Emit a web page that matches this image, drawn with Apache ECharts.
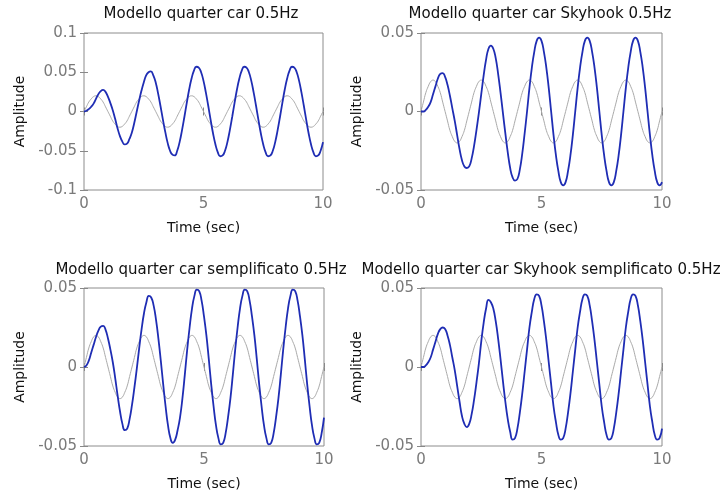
<!DOCTYPE html>
<html>
<head>
<meta charset="utf-8">
<title>Modello quarter car 0.5Hz</title>
<style>
  html, body { margin: 0; padding: 0; background: #fff; }
  #chart { width: 722px; height: 501px; }
</style>
<script src="https://cdn.jsdelivr.net/npm/echarts@6/dist/echarts.min.js"></script>
</head>
<body>
<div id="chart"></div>
<script>
// tempo (sec), passo 0.1
var time = [0, 0.1, 0.2, 0.3, 0.4, 0.5, 0.6, 0.7, 0.8, 0.9,
  1, 1.1, 1.2, 1.3, 1.4, 1.5, 1.6, 1.7, 1.8, 1.9,
  2, 2.1, 2.2, 2.3, 2.4, 2.5, 2.6, 2.7, 2.8, 2.9,
  3, 3.1, 3.2, 3.3, 3.4, 3.5, 3.6, 3.7, 3.8, 3.9,
  4, 4.1, 4.2, 4.3, 4.4, 4.5, 4.6, 4.7, 4.8, 4.9,
  5, 5.1, 5.2, 5.3, 5.4, 5.5, 5.6, 5.7, 5.8, 5.9,
  6, 6.1, 6.2, 6.3, 6.4, 6.5, 6.6, 6.7, 6.8, 6.9,
  7, 7.1, 7.2, 7.3, 7.4, 7.5, 7.6, 7.7, 7.8, 7.9,
  8, 8.1, 8.2, 8.3, 8.4, 8.5, 8.6, 8.7, 8.8, 8.9,
  9, 9.1, 9.2, 9.3, 9.4, 9.5, 9.6, 9.7, 9.8, 9.9, 10]

// ingresso strada (grigio), uguale nei quattro grafici
var ingresso = [0, 0.006, 0.012, 0.016, 0.019, 0.020, 0.019, 0.016, 0.012, 0.006,
  0, -0.006, -0.012, -0.016, -0.019, -0.020, -0.019, -0.016, -0.012, -0.006,
  0, 0.006, 0.012, 0.016, 0.019, 0.020, 0.019, 0.016, 0.012, 0.006,
  0, -0.006, -0.012, -0.016, -0.019, -0.020, -0.019, -0.016, -0.012, -0.006,
  0, 0.006, 0.012, 0.016, 0.019, 0.020, 0.019, 0.016, 0.012, 0.006,
  0, -0.006, -0.012, -0.016, -0.019, -0.020, -0.019, -0.016, -0.012, -0.006,
  0, 0.006, 0.012, 0.016, 0.019, 0.020, 0.019, 0.016, 0.012, 0.006,
  0, -0.006, -0.012, -0.016, -0.019, -0.020, -0.019, -0.016, -0.012, -0.006,
  0, 0.006, 0.012, 0.016, 0.019, 0.020, 0.019, 0.016, 0.012, 0.006,
  0, -0.006, -0.012, -0.016, -0.019, -0.020, -0.019, -0.016, -0.012, -0.006, 0]

var quarterCar = [0, 0.001, 0.003, 0.006, 0.010, 0.016, 0.022, 0.026, 0.0275, 0.025,
  0.019, 0.011, 0.002, -0.009, -0.021, -0.031, -0.038, -0.042, -0.041, -0.035,
  -0.027, -0.015, -0.001, 0.013, 0.026, 0.037, 0.046, 0.050, 0.051, 0.046,
  0.037, 0.023, 0.007, -0.010, -0.026, -0.040, -0.050, -0.055, -0.056, -0.050,
  -0.039, -0.024, -0.007, 0.011, 0.028, 0.042, 0.052, 0.057, 0.056, 0.050,
  0.039, 0.024, 0.007, -0.011, -0.028, -0.042, -0.052, -0.057, -0.056, -0.050,
  -0.039, -0.024, -0.007, 0.011, 0.028, 0.042, 0.052, 0.057, 0.056, 0.050,
  0.039, 0.024, 0.007, -0.011, -0.028, -0.042, -0.052, -0.057, -0.056, -0.050,
  -0.039, -0.024, -0.007, 0.011, 0.028, 0.042, 0.052, 0.057, 0.056, 0.050,
  0.039, 0.024, 0.007, -0.011, -0.028, -0.042, -0.052, -0.057, -0.056, -0.050, -0.039]

var skyhook = [0, 0.000, 0.001, 0.003, 0.006, 0.011, 0.016, 0.021, 0.024, 0.0245,
  0.022, 0.017, 0.010, 0.002, -0.006, -0.015, -0.024, -0.031, -0.035, -0.036,
  -0.035, -0.030, -0.022, -0.012, -0.001, 0.011, 0.023, 0.033, 0.040, 0.042,
  0.040, 0.034, 0.024, 0.012, -0.001, -0.014, -0.026, -0.036, -0.042, -0.044,
  -0.043, -0.037, -0.027, -0.014, 0, 0.015, 0.028, 0.038, 0.045, 0.047,
  0.045, 0.038, 0.028, 0.015, 0, -0.015, -0.028, -0.038, -0.045, -0.047,
  -0.045, -0.038, -0.028, -0.015, 0, 0.015, 0.028, 0.038, 0.045, 0.047,
  0.045, 0.038, 0.028, 0.015, 0, -0.015, -0.028, -0.038, -0.045, -0.047,
  -0.045, -0.038, -0.028, -0.015, 0, 0.015, 0.028, 0.038, 0.045, 0.047,
  0.045, 0.038, 0.028, 0.015, 0, -0.015, -0.028, -0.038, -0.045, -0.047, -0.045]

var semplificato = [0, 0.001, 0.004, 0.009, 0.014, 0.019, 0.023, 0.0255, 0.026, 0.0235,
  0.018, 0.011, 0.003, -0.007, -0.018, -0.028, -0.036, -0.040, -0.039, -0.033,
  -0.024, -0.013, -0.001, 0.012, 0.024, 0.034, 0.041, 0.045, 0.044, 0.039,
  0.030, 0.018, 0.004, -0.011, -0.025, -0.037, -0.045, -0.048, -0.046, -0.040,
  -0.032, -0.020, -0.005, 0.011, 0.025, 0.037, 0.045, 0.049, 0.048, 0.042,
  0.032, 0.020, 0.005, -0.011, -0.025, -0.037, -0.045, -0.049, -0.048, -0.042,
  -0.032, -0.020, -0.005, 0.011, 0.025, 0.037, 0.045, 0.049, 0.048, 0.042,
  0.032, 0.020, 0.005, -0.011, -0.025, -0.037, -0.045, -0.049, -0.048, -0.042,
  -0.032, -0.020, -0.005, 0.011, 0.025, 0.037, 0.045, 0.049, 0.048, 0.042,
  0.032, 0.020, 0.005, -0.011, -0.025, -0.037, -0.045, -0.049, -0.048, -0.042, -0.032]

var skyhookSemplificato = [0, 0.000, 0.001, 0.003, 0.006, 0.011, 0.016, 0.021, 0.024, 0.025,
  0.024, 0.020, 0.014, 0.006, -0.002, -0.012, -0.022, -0.031, -0.036, -0.038,
  -0.036, -0.030, -0.021, -0.010, 0.002, 0.016, 0.028, 0.037, 0.0425, 0.041,
  0.037, 0.029, 0.018, 0.005, -0.009, -0.022, -0.033, -0.041, -0.046, -0.045,
  -0.039, -0.029, -0.017, -0.003, 0.011, 0.025, 0.035, 0.043, 0.046, 0.045,
  0.039, 0.029, 0.017, 0.003, -0.011, -0.025, -0.035, -0.043, -0.046, -0.045,
  -0.039, -0.029, -0.017, -0.003, 0.011, 0.025, 0.035, 0.043, 0.046, 0.045,
  0.039, 0.029, 0.017, 0.003, -0.011, -0.025, -0.035, -0.043, -0.046, -0.045,
  -0.039, -0.029, -0.017, -0.003, 0.011, 0.025, 0.035, 0.043, 0.046, 0.045,
  0.039, 0.029, 0.017, 0.003, -0.011, -0.025, -0.035, -0.043, -0.046, -0.045, -0.039]

var titoli = ['Modello quarter car 0.5Hz', 'Modello quarter car Skyhook 0.5Hz',
  'Modello quarter car semplificato 0.5Hz', 'Modello quarter car Skyhook semplificato 0.5Hz']
var xTicks = [0, 5, 10]
var yLimiti = [0.1, 0.05, 0.05, 0.05]
var risposte = [quarterCar, skyhook, semplificato, skyhookSemplificato]

var font = 'DejaVu Sans'
var pannelli = [
  {left: 84, top: 33, width: 239, height: 157, tx: 201, ty: 7},
  {left: 421, top: 33, width: 241, height: 157, tx: 540, ty: 7},
  {left: 84, top: 288, width: 240, height: 158, tx: 201, ty: 263},
  {left: 421, top: 288, width: 241, height: 158, tx: 541, ty: 263}
]

var coppie = function(ys) {
    return time.map(function(t, i) { return [t, ys[i]] })
}

var tick = {show: true, inside: true, length: 4, lineStyle: {color: '#888', width: 1}}

var option = {
    animation: false,
    backgroundColor: '#fff',
    title: [], grid: [], xAxis: [], yAxis: [], series: []
}

pannelli.forEach(function(p, i) {
    var yMax = yLimiti[i]
    option.title.push({
        text: titoli[i], left: p.tx, top: p.ty, textAlign: 'center', padding: 0,
        textStyle: {fontFamily: font, fontSize: 15, fontWeight: 'normal', color: '#111'}
    })
    option.grid.push({
        left: p.left, top: p.top, width: p.width, height: p.height,
        show: true, borderColor: '#8c8c8c', borderWidth: 1, backgroundColor: '#fff'
    })
    option.xAxis.push({
        type: 'value', gridIndex: i, min: xTicks[0], max: xTicks[2], interval: xTicks[1] - xTicks[0],
        axisLine: {show: false}, axisTick: tick, splitLine: {show: false},
        axisLabel: {color: '#7a7a7a', fontFamily: font, fontSize: 15, margin: 7},
        name: 'Time (sec)', nameLocation: 'middle', nameGap: 31,
        nameTextStyle: {fontFamily: font, fontSize: 14, color: '#111'}
    })
    option.xAxis.push({
        type: 'value', gridIndex: i, position: 'top', min: xTicks[0], max: xTicks[2], interval: xTicks[1] - xTicks[0],
        axisLine: {show: false}, axisTick: tick, splitLine: {show: false}, axisLabel: {show: false}
    })
    option.yAxis.push({
        type: 'value', gridIndex: i, min: -yMax, max: yMax, interval: 0.05,
        axisLine: {show: false}, axisTick: tick, splitLine: {show: false},
        axisLabel: {color: '#7a7a7a', fontFamily: font, fontSize: 15, margin: 7},
        name: 'Amplitude', nameLocation: 'middle', nameGap: 57, nameRotate: 90,
        nameTextStyle: {fontFamily: font, fontSize: 14, color: '#111'}
    })
    option.yAxis.push({
        type: 'value', gridIndex: i, position: 'right', min: -yMax, max: yMax, interval: 0.05,
        axisLine: {show: false}, axisTick: tick, splitLine: {show: false}, axisLabel: {show: false}
    })
    option.series.push({
        type: 'line', xAxisIndex: 2 * i, yAxisIndex: 2 * i, data: coppie(ingresso),
        showSymbol: false, smooth: true, silent: true, z: 2,
        lineStyle: {color: '#aaaaaa', width: 1}
    })
    option.series.push({
        type: 'line', xAxisIndex: 2 * i, yAxisIndex: 2 * i, data: coppie(risposte[i]),
        showSymbol: false, smooth: true, silent: true, z: 3,
        lineStyle: {color: '#1f2db4', width: 1.8}
    })
})

var myChart = echarts.init(document.getElementById('chart'))
myChart.setOption(option)
</script>
</body>
</html>
